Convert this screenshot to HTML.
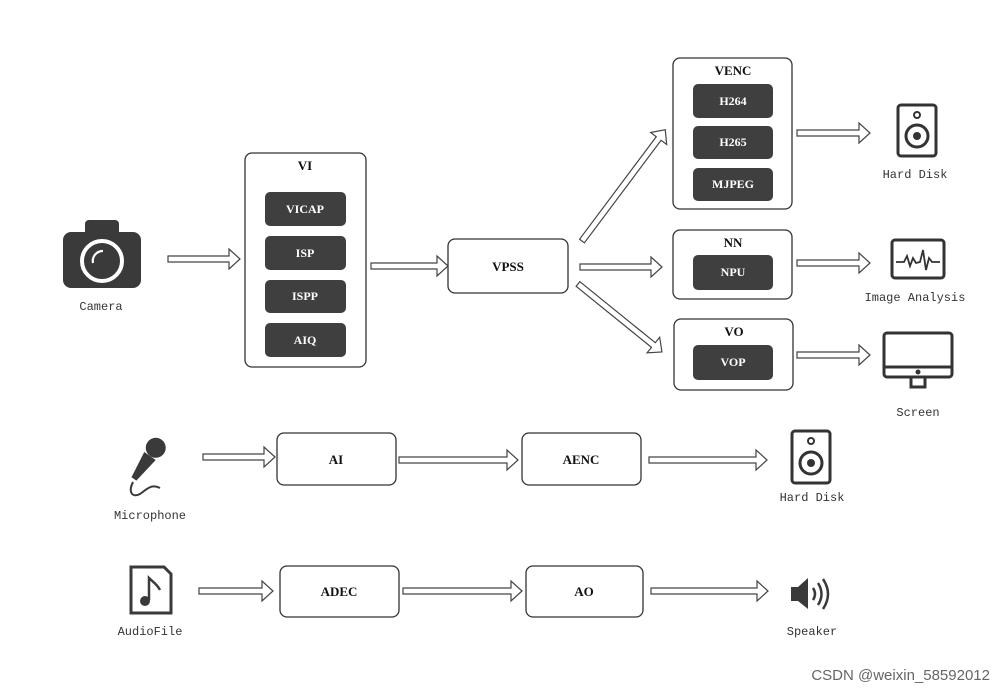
<!DOCTYPE html>
<html><head><meta charset="utf-8"><style>
html,body{margin:0;padding:0;background:#fff;}
svg{display:block}
.b{fill:#fff;stroke:#333;stroke-width:1.3}
.d{fill:#3f3f3f}
.t{font-family:"Liberation Serif",serif;font-weight:bold;font-size:13px;text-anchor:middle;fill:#111}
.w{font-family:"Liberation Serif",serif;font-weight:bold;font-size:12px;text-anchor:middle;fill:#fff}
.l{font-family:"Liberation Mono",monospace;font-size:12px;text-anchor:middle;fill:#333}
.a{fill:#fff;stroke:#444;stroke-width:1.2}
.ic{fill:none;stroke:#333;stroke-width:3}
</style></head><body>
<svg width="1005" height="693" viewBox="0 0 1005 693" xmlns="http://www.w3.org/2000/svg">
<rect class="b" x="245" y="153" width="121" height="214" rx="7"/>
<text class="t" x="305" y="170">VI</text>
<rect class="d" x="265" y="192" width="81" height="34" rx="5"/><text class="w" x="305" y="213">VICAP</text>
<rect class="d" x="265" y="236" width="81" height="34" rx="5"/><text class="w" x="305" y="257">ISP</text>
<rect class="d" x="265" y="280" width="81" height="33" rx="5"/><text class="w" x="305" y="300">ISPP</text>
<rect class="d" x="265" y="323" width="81" height="34" rx="5"/><text class="w" x="305" y="344">AIQ</text>
<rect class="b" x="448" y="239" width="120" height="54" rx="7"/><text class="t" x="508" y="271">VPSS</text>
<rect class="b" x="673" y="58" width="119" height="151" rx="7"/><text class="t" x="733" y="75">VENC</text>
<rect class="d" x="693" y="84" width="80" height="34" rx="5"/><text class="w" x="733" y="105">H264</text>
<rect class="d" x="693" y="126" width="80" height="33" rx="5"/><text class="w" x="733" y="146">H265</text>
<rect class="d" x="693" y="168" width="80" height="33" rx="5"/><text class="w" x="733" y="188">MJPEG</text>
<rect class="b" x="673" y="230" width="119" height="69" rx="7"/><text class="t" x="733" y="247">NN</text>
<rect class="d" x="693" y="255" width="80" height="35" rx="5"/><text class="w" x="733" y="276">NPU</text>
<rect class="b" x="674" y="319" width="119" height="71" rx="7"/><text class="t" x="734" y="336">VO</text>
<rect class="d" x="693" y="345" width="80" height="35" rx="5"/><text class="w" x="733" y="366">VOP</text>
<rect class="b" x="277" y="433" width="119" height="52" rx="7"/><text class="t" x="336" y="464">AI</text>
<rect class="b" x="522" y="433" width="119" height="52" rx="7"/><text class="t" x="581" y="464">AENC</text>
<rect class="b" x="280" y="566" width="119" height="51" rx="7"/><text class="t" x="339" y="596">ADEC</text>
<rect class="b" x="526" y="566" width="117" height="51" rx="7"/><text class="t" x="584" y="596">AO</text>
<g class="a">
<polygon transform="translate(168,259)" points="0,-3 61,-3 61,-10 72,0 61,10 61,3 0,3"/>
<polygon transform="translate(371,266)" points="0,-3 66,-3 66,-10 77,0 66,10 66,3 0,3"/>
<polygon transform="translate(580,267)" points="0,-3 71,-3 71,-10 82,0 71,10 71,3 0,3"/>
<polygon transform="translate(582,241) rotate(-53.2)" points="0,-3 128,-3 128,-10 139,0 128,10 128,3 0,3"/>
<polygon transform="translate(578,284) rotate(39)" points="0,-3 97,-3 97,-10 108,0 97,10 97,3 0,3"/>
<polygon transform="translate(797,133)" points="0,-3 62,-3 62,-10 73,0 62,10 62,3 0,3"/>
<polygon transform="translate(797,263)" points="0,-3 62,-3 62,-10 73,0 62,10 62,3 0,3"/>
<polygon transform="translate(797,355)" points="0,-3 62,-3 62,-10 73,0 62,10 62,3 0,3"/>
<polygon transform="translate(203,457)" points="0,-3 61,-3 61,-10 72,0 61,10 61,3 0,3"/>
<polygon transform="translate(399,460)" points="0,-3 108,-3 108,-10 119,0 108,10 108,3 0,3"/>
<polygon transform="translate(649,460)" points="0,-3 107,-3 107,-10 118,0 107,10 107,3 0,3"/>
<polygon transform="translate(199,591)" points="0,-3 63,-3 63,-10 74,0 63,10 63,3 0,3"/>
<polygon transform="translate(403,591)" points="0,-3 108,-3 108,-10 119,0 108,10 108,3 0,3"/>
<polygon transform="translate(651,591)" points="0,-3 106,-3 106,-10 117,0 106,10 106,3 0,3"/>
</g>
<rect x="63" y="232" width="78" height="56" rx="8" fill="#3a3a3a"/>
<rect x="85" y="220" width="34" height="16" rx="4" fill="#3a3a3a"/>
<circle cx="102" cy="261" r="20" fill="none" stroke="#fff" stroke-width="4"/>
<path d="M93,263 A10,10 0 0 1 103,251" fill="none" stroke="#fff" stroke-width="2.2"/>
<text class="l" x="101" y="310">Camera</text>
<rect class="ic" x="898" y="105" width="38" height="51" rx="3"/>
<circle cx="917" cy="115" r="3" fill="none" stroke="#333" stroke-width="2"/>
<circle cx="917" cy="136" r="11" fill="none" stroke="#333" stroke-width="3"/>
<circle cx="917" cy="136" r="4" fill="#333"/>
<text class="l" x="915" y="178">Hard Disk</text>
<rect class="ic" x="892" y="240" width="52" height="38" rx="3"/>
<polyline points="896,262 904,262 907,256 910,266 913,258 916,263 920,262 923,250 926,270 929,258 932,262 940,262" fill="none" stroke="#333" stroke-width="1.8"/>
<text class="l" x="915" y="301">Image Analysis</text>
<rect class="ic" x="884" y="333" width="68" height="44" rx="3"/>
<line x1="884" y1="367" x2="952" y2="367" stroke="#333" stroke-width="3"/>
<circle cx="918" cy="372" r="2.5" fill="#333"/>
<path d="M911,377 L911,387 L925,387 L925,377" fill="none" stroke="#333" stroke-width="3"/>
<text class="l" x="918" y="416">Screen</text>
<g transform="translate(150,456) rotate(35)">
<circle cx="0" cy="-10" r="10" fill="#3a3a3a"/>
<path d="M-7,0 L7,0 L3,28 L-3,28 Z" fill="#3a3a3a"/>
</g>
<path d="M133,482 C128,492 132,498 140,494 C148,488 152,484 160,488" fill="none" stroke="#3a3a3a" stroke-width="2"/>
<text class="l" x="150" y="519">Microphone</text>
<rect class="ic" x="792" y="431" width="38" height="52" rx="3"/>
<circle cx="811" cy="441" r="3" fill="none" stroke="#333" stroke-width="2"/>
<circle cx="811" cy="463" r="11" fill="none" stroke="#333" stroke-width="3"/>
<circle cx="811" cy="463" r="4" fill="#333"/>
<text class="l" x="812" y="501">Hard Disk</text>
<path d="M131,567 L164,567 L171,574 L171,613 L131,613 Z" fill="none" stroke="#3a3a3a" stroke-width="3"/>
<path d="M149,600 L149,578 C153,582 157,584 160,590" fill="none" stroke="#3a3a3a" stroke-width="2.5"/>
<circle cx="145" cy="601" r="5" fill="#3a3a3a"/>
<text class="l" x="150" y="635">AudioFile</text>
<path d="M791,587 L798,587 L808,578 L808,609 L798,601 L791,601 Z" fill="#3a3a3a"/>
<path d="M813,588 Q817,594 813,600" fill="none" stroke="#3a3a3a" stroke-width="2.5"/>
<path d="M818,583 Q825,594 818,605" fill="none" stroke="#3a3a3a" stroke-width="2.5"/>
<path d="M823,579 Q833,594 823,609" fill="none" stroke="#3a3a3a" stroke-width="2.5"/>
<text class="l" x="812" y="635">Speaker</text>
<text x="990" y="680" font-family="Liberation Sans, sans-serif" font-size="15" fill="#666" text-anchor="end">CSDN @weixin_58592012</text>
</svg>
</body></html>
